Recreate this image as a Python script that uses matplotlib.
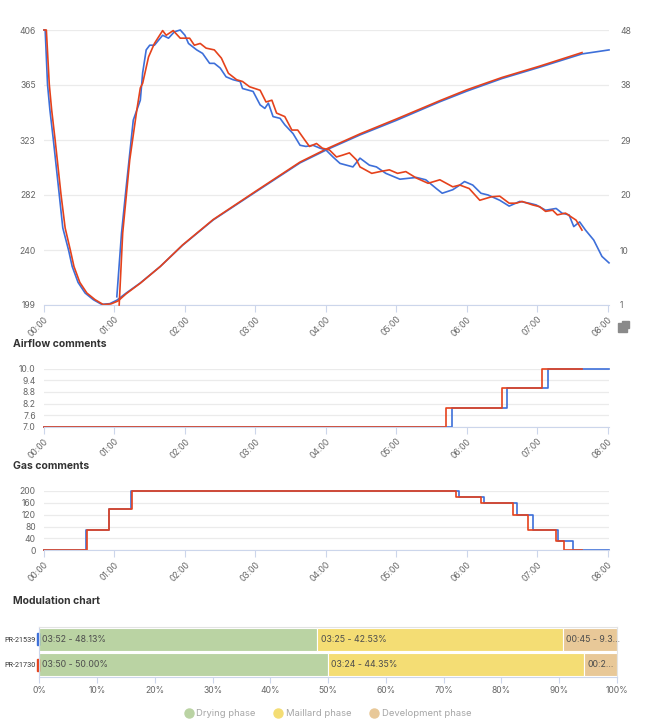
import matplotlib
matplotlib.use("Agg")
import matplotlib.pyplot as plt
import matplotlib.transforms as mtransforms
from matplotlib.patches import Rectangle
from matplotlib.lines import Line2D

plt.rcParams['font.family'] = ['Inter', 'DejaVu Sans']

# ---- roast curves (time in seconds) ----
bt_blue_t = [0, 1, 3, 5, 8, 13, 16, 21, 24, 29, 35, 42, 49, 56, 62, 70, 82, 99, 118, 144,
             180, 218, 241, 269, 300, 337, 360, 390, 422, 458, 481]
bt_blue = [406, 406, 365, 346, 323, 282, 257, 240, 228, 216, 208, 203, 199.5, 200, 202.6, 208,
           215.6, 228, 244, 263, 284, 306, 316, 327, 338, 352, 360, 369.5, 378, 388, 391]

bt_red_t = [0, 2, 4.5, 6.5, 9.5, 14.5, 18, 22.5, 25.5, 30.5, 36.5, 43.5, 50.5, 57, 63, 70, 82,
            99, 118, 144, 180, 218, 241, 269, 300, 337, 360, 390, 422, 458]
bt_red = [406, 406, 365, 346, 323, 282, 257, 240, 228, 216, 208, 203, 199.3, 199.8, 202, 207.5,
          215.4, 228, 244.2, 263.3, 284.5, 306.6, 316.7, 327.8, 339, 352.8, 361, 370.3, 378.8, 389]

ror_blue_t = [62, 66, 70, 76, 82, 84, 87, 90, 94, 101, 106, 111, 116, 120, 123, 130, 135, 141,
              145, 150, 155, 161, 167, 169, 178, 184, 188, 191, 195, 201, 205, 212, 218, 223,
              229, 235, 240, 246, 252, 263, 269, 277, 283, 291, 303, 317, 325, 334, 339, 348,
              354, 358, 365, 372, 378, 388, 396, 405, 413, 419, 427, 436, 441, 447, 451, 456,
              461, 468, 475, 481]
ror_blue = [2.4, 13.3, 21.2, 32.6, 36.0, 40.7, 44.6, 45.4, 45.4, 47.1, 46.6, 47.7, 48.0, 47.1,
            45.7, 44.6, 44.0, 42.3, 42.3, 41.5, 40.0, 39.5, 39.2, 38.0, 37.5, 35.2, 34.6, 35.5,
            33.2, 32.9, 31.8, 30.3, 28.3, 28.1, 28.3, 27.8, 27.5, 26.3, 25.2, 24.6, 26.1, 24.9,
            24.6, 23.5, 22.5, 22.8, 22.4, 20.9, 20.1, 20.7, 21.5, 22.1, 21.5, 20.1, 19.8, 18.9,
            17.9, 18.7, 18.4, 18.1, 17.2, 17.5, 16.7, 16.4, 14.4, 15.2, 13.8, 12.1, 9.3, 8.2]

ror_red_t = [64, 67, 73, 79, 82, 84, 89, 94, 101, 104, 110, 116, 124, 128, 133, 138, 145, 151,
             157, 164, 169, 175, 184, 189, 194, 198, 205, 211, 216, 222, 226, 232, 237, 243,
             249, 254, 260, 266, 269, 279, 286, 294, 301, 308, 317, 327, 337, 348, 354, 362,
             371, 381, 388, 396, 402, 407, 416, 422, 427, 433, 437, 444, 453, 458]
ror_red = [1.0, 13.3, 25.8, 34.3, 38.1, 38.9, 43.4, 45.7, 47.9, 47.1, 47.9, 46.6, 46.6, 45.4,
           45.7, 44.9, 44.6, 43.2, 40.6, 39.5, 39.2, 38.3, 37.7, 35.7, 36.0, 33.8, 33.2, 30.9,
           30.9, 29.2, 28.1, 28.6, 27.8, 27.5, 26.3, 26.6, 27.0, 25.8, 24.6, 23.5, 23.8, 24.1,
           23.5, 23.8, 22.7, 21.8, 22.4, 21.2, 21.5, 20.9, 18.9, 19.5, 19.6, 18.4, 18.4, 18.7,
           18.1, 17.8, 17.0, 17.2, 16.4, 16.7, 15.5, 13.8]

# ---- comment step series ----
air_blue_t = [0, 347, 394, 429, 481]
air_blue = [7, 8, 9, 10, 10]
air_red_t = [0, 342, 390, 424, 458]
air_red = [7, 8, 9, 10, 10]

gas_blue_t = [0, 36, 55, 74, 353, 375, 403, 416, 438, 450, 481]
gas_blue = [0, 70, 140, 200, 180, 160, 120, 70, 30, 0, 0]
gas_red_t = [0, 37, 55.5, 75, 351, 372, 399, 412, 436, 443, 458]
gas_red = [0, 70, 140, 200, 180, 160, 120, 70, 30, 0, 0]

# ---- modulation ----
runs = ['PR-21539', 'PR-21730']
drying = [48.13, 50.00]
maillard = [42.53, 44.35]
development = [9.34, 5.65]
drying_labels = ['03:52 - 48.13%', '03:50 - 50.00%']
maillard_labels = ['03:25 - 42.53%', '03:24 - 44.35%']
development_labels = ['00:45 - 9.3...', '00:2...']
phase_names = ['Drying phase', 'Maillard phase', 'Development phase']

hour_ticks = [0, 60, 120, 180, 240, 300, 360, 420, 480]
hour_labels = ['00:00', '01:00', '02:00', '03:00', '04:00', '05:00', '06:00', '07:00', '08:00']

left_ticks = [199, 240.4, 281.8, 323.2, 364.6, 406]
left_labels = ['199', '240', '282', '323', '365', '406']
right_ticks = [1, 10.4, 19.8, 29.2, 38.6, 48]
right_labels = ['1', '10', '20', '29', '38', '48']

BLUE = '#3d6fd9'
RED = '#e5421c'
GRID = '#ebebeb'
AXIS = '#ccd6eb'
LABEL = '#666666'
TITLE = '#333333'
PHASE_COLORS = ['#bad3a3', '#f4dd74', '#e8c898']

W, H = 656, 727
fig = plt.figure(figsize=(W / 100, H / 100), dpi=100)


def box(l, t, r, b):
    return [l / W, 1 - b / H, (r - l) / W, (b - t) / H]


def style_time_axis(ax):
    ax.set_xlim(0, 481)
    ax.set_xticks(hour_ticks)
    ax.set_xticklabels(hour_labels, rotation=45, ha='right', va='top', rotation_mode='anchor')
    ax.tick_params(axis='x', length=5, color=AXIS, labelsize=6.2, labelcolor=LABEL, pad=2)
    ax.tick_params(axis='y', length=0, labelsize=6.2, labelcolor=LABEL, pad=6)
    for s in ['top', 'right', 'left']:
        ax.spines[s].set_visible(False)
    ax.spines['bottom'].set_color(AXIS)
    ax.grid(axis='y', color=GRID, lw=0.9)
    ax.set_axisbelow(True)


# top chart: temperatures + rate of rise
ax = fig.add_axes(box(44, 30, 609, 305))
style_time_axis(ax)
ax.set_ylim(199, 406)
ax.set_yticks(left_ticks)
ax.set_yticklabels(left_labels)
ax.plot(bt_blue_t, bt_blue, color=BLUE, lw=1.2, clip_on=False)
ax.plot(bt_red_t, bt_red, color=RED, lw=1.2, clip_on=False)

ax2 = ax.twinx()
ax2.set_ylim(1, 48)
ax2.set_yticks(right_ticks)
ax2.set_yticklabels(right_labels)
ax2.tick_params(axis='y', length=0, labelsize=6.2, labelcolor=LABEL, pad=8)
for s in ax2.spines.values():
    s.set_visible(False)
ax2.plot(ror_blue_t, ror_blue, color=BLUE, lw=1.2, clip_on=False)
ax2.plot(ror_red_t, ror_red, color=RED, lw=1.2, clip_on=False)

# reset zoom icon
fig.patches.append(Rectangle((618 / W, 1 - 332 / H), 8.5 / W, 8.5 / H, transform=fig.transFigure,
                             color='#8a8a8a'))
fig.patches.append(Rectangle((621.5 / W, 1 - 328 / H), 7.5 / W, 7.5 / H, transform=fig.transFigure,
                             color='#8a8a8a'))

# airflow
fig.text(13 / W, 1 - 344 / H, 'Airflow comments', fontsize=7.5, fontweight='bold', color=TITLE,
         va='center')
axa = fig.add_axes(box(44, 368.5, 609, 427))
style_time_axis(axa)
axa.set_ylim(7, 10)
axa.set_yticks([7.0, 7.6, 8.2, 8.8, 9.4, 10.0])
axa.set_yticklabels(['7.0', '7.6', '8.2', '8.8', '9.4', '10.0'])
axa.step(air_blue_t, air_blue, where='post', color=BLUE, lw=1.2, clip_on=False)
axa.step(air_red_t, air_red, where='post', color=RED, lw=1.2, clip_on=False)

# gas
fig.text(13 / W, 1 - 466.5 / H, 'Gas comments', fontsize=7.5, fontweight='bold', color=TITLE,
         va='center')
axg = fig.add_axes(box(44, 491, 609, 550.3))
style_time_axis(axg)
axg.set_ylim(0, 200)
axg.set_yticks([0, 40, 80, 120, 160, 200])
axg.step(gas_blue_t, gas_blue, where='post', color=BLUE, lw=1.2, clip_on=False)
axg.step(gas_red_t, gas_red, where='post', color=RED, lw=1.2, clip_on=False)

# modulation chart
fig.text(13 / W, 1 - 600.5 / H, 'Modulation chart', fontsize=7.5, fontweight='bold', color=TITLE,
         va='center')
axm = fig.add_axes(box(39.3, 626.7, 617, 677.3))
ypos = [1, 0]
lefts = [0, 0]
for vals, labels, col in [(drying, drying_labels, PHASE_COLORS[0]),
                          (maillard, maillard_labels, PHASE_COLORS[1]),
                          (development, development_labels, PHASE_COLORS[2])]:
    axm.barh(ypos, vals, left=lefts, height=0.92, color=col, edgecolor='white', lw=0.8)
    for y, l, lab in zip(ypos, lefts, labels):
        axm.text(l + 0.55, y, lab, fontsize=6.3, color='#4d4d4d', va='center', ha='left')
    lefts = [a + b for a, b in zip(lefts, vals)]

axm.set_xlim(0, 100)
axm.set_ylim(-0.5, 1.5)
axm.set_xticks(range(0, 101, 10))
axm.set_xticklabels([f'{v}%' for v in range(0, 101, 10)])
axm.set_yticks(ypos)
axm.set_yticklabels(runs, family=['Roboto', 'DejaVu Sans'])
axm.tick_params(axis='x', length=4, color=AXIS, labelsize=6.2, labelcolor=LABEL, pad=2)
axm.tick_params(axis='y', length=0, labelsize=5.2, labelcolor=TITLE, pad=3)
axm.spines['left'].set_color(AXIS)
axm.spines['bottom'].set_color(AXIS)
axm.spines['top'].set_color('#e3e3e3')
axm.spines['right'].set_color('#e3e3e3')
trans = mtransforms.blended_transform_factory(axm.transAxes, axm.transData)
for y, c in zip(ypos, [BLUE, RED]):
    axm.add_patch(Rectangle((-0.004, y - 0.24), 0.0035, 0.48, transform=trans, color=c,
                            clip_on=False))

handles = [Line2D([], [], marker='o', ls='none', markersize=6.5, markerfacecolor=c,
                  markeredgecolor=c) for c in PHASE_COLORS]
fig.legend(handles, phase_names, loc='center', bbox_to_anchor=(328 / W, 1 - 714 / H), ncol=3,
           frameon=False, fontsize=6.8, labelcolor='#a6a6a6', handlelength=0.8,
           handletextpad=0.4, columnspacing=2.0)

fig.savefig('out.png', dpi=100)
